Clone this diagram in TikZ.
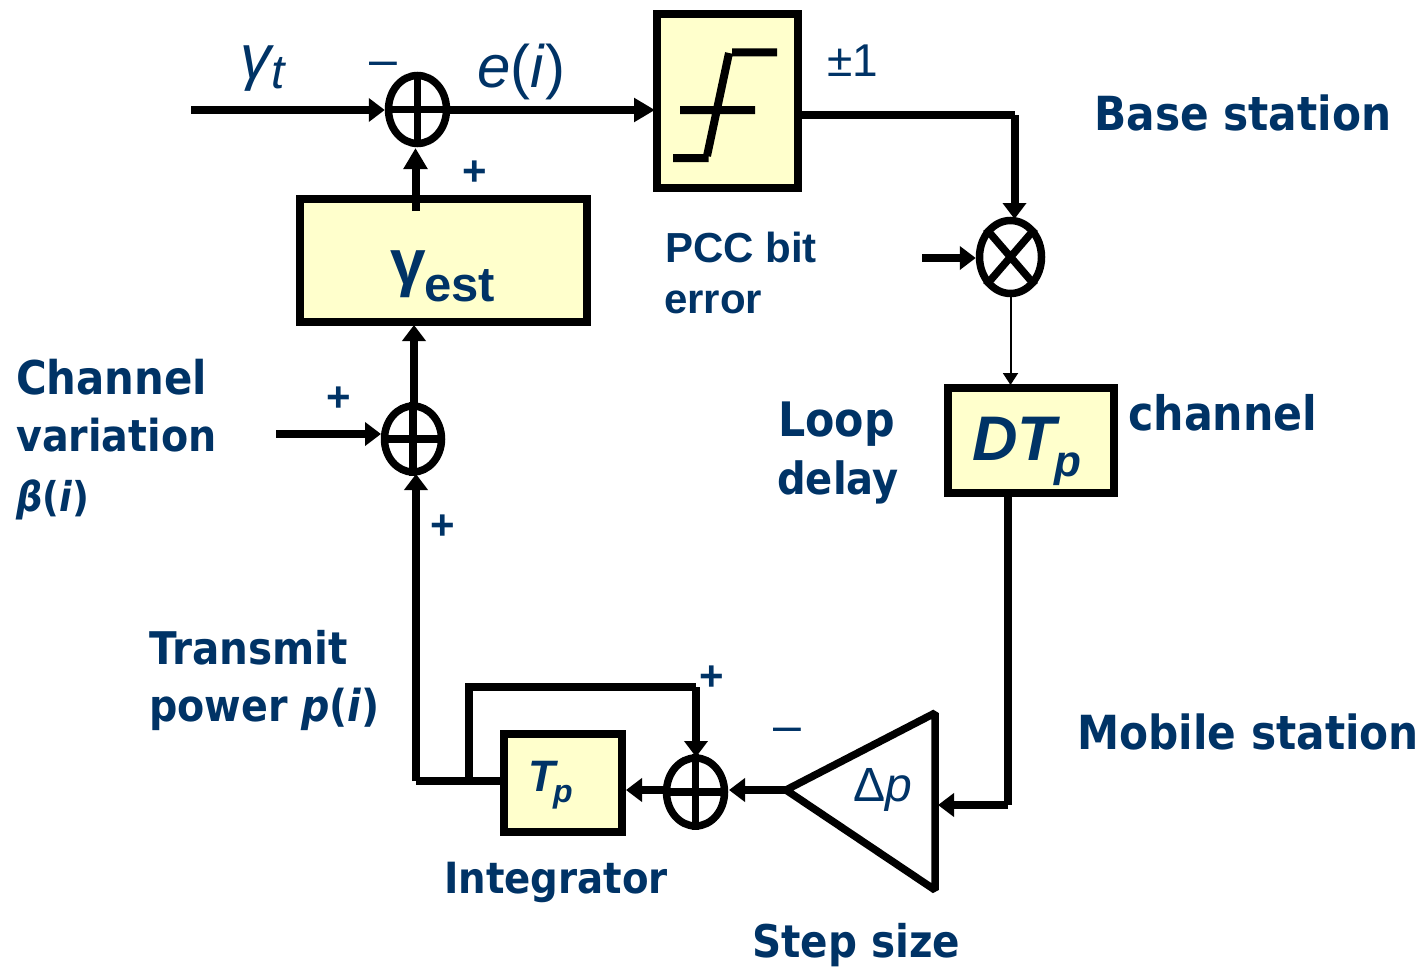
\documentclass[tikz,border=0pt]{standalone}
\usepackage{fontspec}
\usetikzlibrary{arrows.meta,shapes.geometric}
\setmainfont{Liberation Sans}
\newfontfamily\tah[FakeStretch=0.9]{DejaVu Sans}
\definecolor{navy}{HTML}{003366}
\definecolor{boxy}{HTML}{FFFFCC}
\newcommand{\fs}[1]{\fontsize{#1}{#1}\selectfont}
\tikzset{
  x=1pt,y=-1pt,
  wire/.style={line width=8pt,line cap=butt,line join=miter},
  arr/.style={wire,-{Triangle[length=21pt,width=23pt]}},
  arrs/.style={wire,-{Triangle[length=16pt,width=23pt]}},
  thinarr/.style={line width=2pt,-{Triangle[length=12pt,width=15pt]}},
  block/.style={draw=black,fill=boxy,line width=8pt,rectangle,inner sep=0pt},
  summer/.style={draw=black,line width=7.5pt,ellipse,inner sep=0pt,fill=white},
  lab/.style={text=navy,inner sep=0pt,anchor=base west},
  tb/.style={lab,font=\tah\bfseries\fs{45}},
  ab/.style={lab,font=\bfseries\fs{42}},
  sg/.style={text=navy,inner sep=0pt,font=\bfseries\fs{42}},
  dashsign/.style={lab,font=\fs{50}},
}
\begin{document}
\begin{tikzpicture}
\useasboundingbox (0,0) rectangle (1420,966);
% blocks
\node[block,minimum width=141pt,minimum height=173pt] (lim) at (727.5,101) {};
\node[block,minimum width=287pt,minimum height=123pt] (est) at (443.5,260.5) {};
\node[block,minimum width=166pt,minimum height=105pt] (dt) at (1031,440.5) {};
\node[block,minimum width=118pt,minimum height=98pt] (tp) at (563,783) {};
% summers
\node[summer,minimum width=58pt,minimum height=68pt] (s1) at (417.5,109.5) {};
\node[summer,minimum width=57pt,minimum height=66pt] (s2) at (413,439) {};
\node[summer,minimum width=58pt,minimum height=68pt] (s3) at (695.5,792) {};
\node[summer,minimum width=62pt,minimum height=73pt] (mu) at (1010.5,257) {};
% marks inside summers
\draw[line width=7.5pt] (s1.north)--(s1.south) (s1.west)--(s1.east);
\draw[line width=7.5pt] (s2.north)--(s2.south) (s2.west)--(s2.east);
\draw[line width=7.5pt] (s3.north)--(s3.south) (s3.west)--(s3.east);
\draw[line width=7.5pt] (mu.north west)--(mu.south east) (mu.north east)--(mu.south west);
% limiter glyph
\coordinate (g1) at (680,110); \coordinate (g2) at (755,110);
\coordinate (g3) at (673,158); \coordinate (g4) at (708.5,158);
\coordinate (g5) at (732,52.5); \coordinate (g6) at (777,52.5);
\coordinate (g7) at (707,156); \coordinate (g8) at (729,53);
\draw[wire] (g1)--(g2) (g3)--(g4) (g5)--(g6) (g7)--(g8);
% triangle
\coordinate (ta) at (786,790); \coordinate (tt) at (935,713); \coordinate (tb) at (935,890);
\draw[line width=7.5pt,line join=bevel] (ta)--(tt)--(tb)--cycle;
% free ends and bends
\coordinate (in1) at (191,110);
\coordinate (in2) at (276,434);
\coordinate (in3) at (922,258);
\coordinate (s1e) at (450,110);
\coordinate (limw) at (655,110);
\coordinate (lo) at (802,115);
\coordinate (c1) at (1014.5,115);
\coordinate (muin) at (1014.5,219);
\coordinate (estout) at (415.5,211);
\coordinate (s1in) at (415.5,148);
\coordinate (s2in) at (381,434);
\coordinate (s2up) at (414,403);
\coordinate (estin) at (414,325);
\coordinate (s2bot) at (416,474);
\coordinate (c2) at (416,781);
\coordinate (tpw) at (500,781);
\coordinate (c3) at (468.5,781);
\coordinate (c4) at (468.5,687);
\coordinate (c5) at (696,687);
\coordinate (s3top) at (696,757);
\coordinate (dtin) at (1010.5,385);
\coordinate (dtout) at (1008,497);
\coordinate (c6) at (1008,805);
\coordinate (trin) at (938,805);
\coordinate (s3e) at (729,790);
\coordinate (tpe) at (626,790);
\coordinate (s3w) at (664,790);
% connectors
\draw[arrs] (in1)--(s1.west |- in1);
\draw[arr] (s1e)--(limw);
\draw[wire] (lo)--(c1);
\draw[arrs] (c1)--(muin);
\draw[arrs] (in3)--(mu.west |- in3);
\draw[thinarr] (mu.south)--(dtin);
\draw[wire] (dtout)--(c6);
\draw[arrs] (c6)--(trin);
\draw[arrs] (ta)--(s3e);
\draw[arrs] (s3w)--(tpe);
\draw[wire] (tpw)--(c2);
\draw[arrs] (c2)--(s2bot);
\draw[wire] (c3)--(c4)--(c5);
\draw[arrs] (c5)--(s3top);
\draw[arrs] (s2in -| in2)--(s2in);
\draw[arrs] (s2up)--(estin);
\draw[arr] (estout)--(s1in);
% labels
\node[lab,font=\itshape\fs{62}] (gt) at (240,78) {γ};
\node[lab,font=\itshape\fs{48}] (tt1) at (271,88) {t};
\node[lab,font=\fs{60}] (ei) at (477,87) {\textit{e}(\textit{i})};
\node[lab,font=\fs{46}] (pm) at (827,76) {±1};
\node[tb,font=\tah\bfseries\fs{47}] (base) at (1094,130) {Base station};
\node[ab] (pcc) at (665,262) {PCC bit};
\node[ab] (err) at (664,313) {error};
\node[lab,font=\bfseries\fs{64}] (ge) at (390,284) {γ};
\node[lab,font=\bfseries\fs{49}] (es) at (424,301) {est};
\node[tb,font=\tah\bfseries\fs{47.5}] (ch) at (1128,430) {channel};
\node[tb,font=\tah\bfseries\fs{47.5}] (loop) at (778,436) {Loop};
\node[tb,font=\tah\bfseries\fs{44.5}] (dl) at (777,494) {delay};
\node[lab,font=\bfseries\itshape\fs{63}] (dtt) at (972,460) {DT};
\node[lab,font=\bfseries\itshape\fs{44}] (dtp) at (1054,476) {p};
\node[tb,font=\tah\bfseries\fs{46.5}] (cv1) at (16,394) {Channel};
\node[tb,font=\tah\bfseries\fs{44}] (cv2) at (16,451) {variation};
\node[lab,font=\tah\bfseries\fs{41}] (cv3) at (16,511) {\textit{β}(\textit{i})};
\node[tb] (tr1) at (149,664) {Transmit};
\node[tb,font=\tah\bfseries\fs{44}] (tr2) at (149,721) {power \textit{p}(\textit{i})};
\node[tb,font=\tah\bfseries\fs{47}] (mob) at (1077,749) {Mobile station};
\node[tb,font=\tah\bfseries\fs{43}] (int) at (444,893) {Integrator};
\node[tb] (step) at (752,957) {Step size};
\node[lab,font=\bfseries\itshape\fs{44}] (tpt) at (528,791) {T};
\node[lab,font=\bfseries\itshape\fs{32}] (tpp) at (553,802) {p};
\node[lab,font=\fs{48}] (dp) at (853,801) {Δ\textit{p}};
\node[sg] (p1) at (475,173) {+};
\node[sg] (p2) at (339,399) {+};
\node[sg] (p3) at (443,527) {+};
\node[sg] (p4) at (712,678) {+};
\node[dashsign] (m1) at (369,77) {–};
\node[dashsign] (m2) at (773,742) {–};
\end{tikzpicture}
\end{document}
